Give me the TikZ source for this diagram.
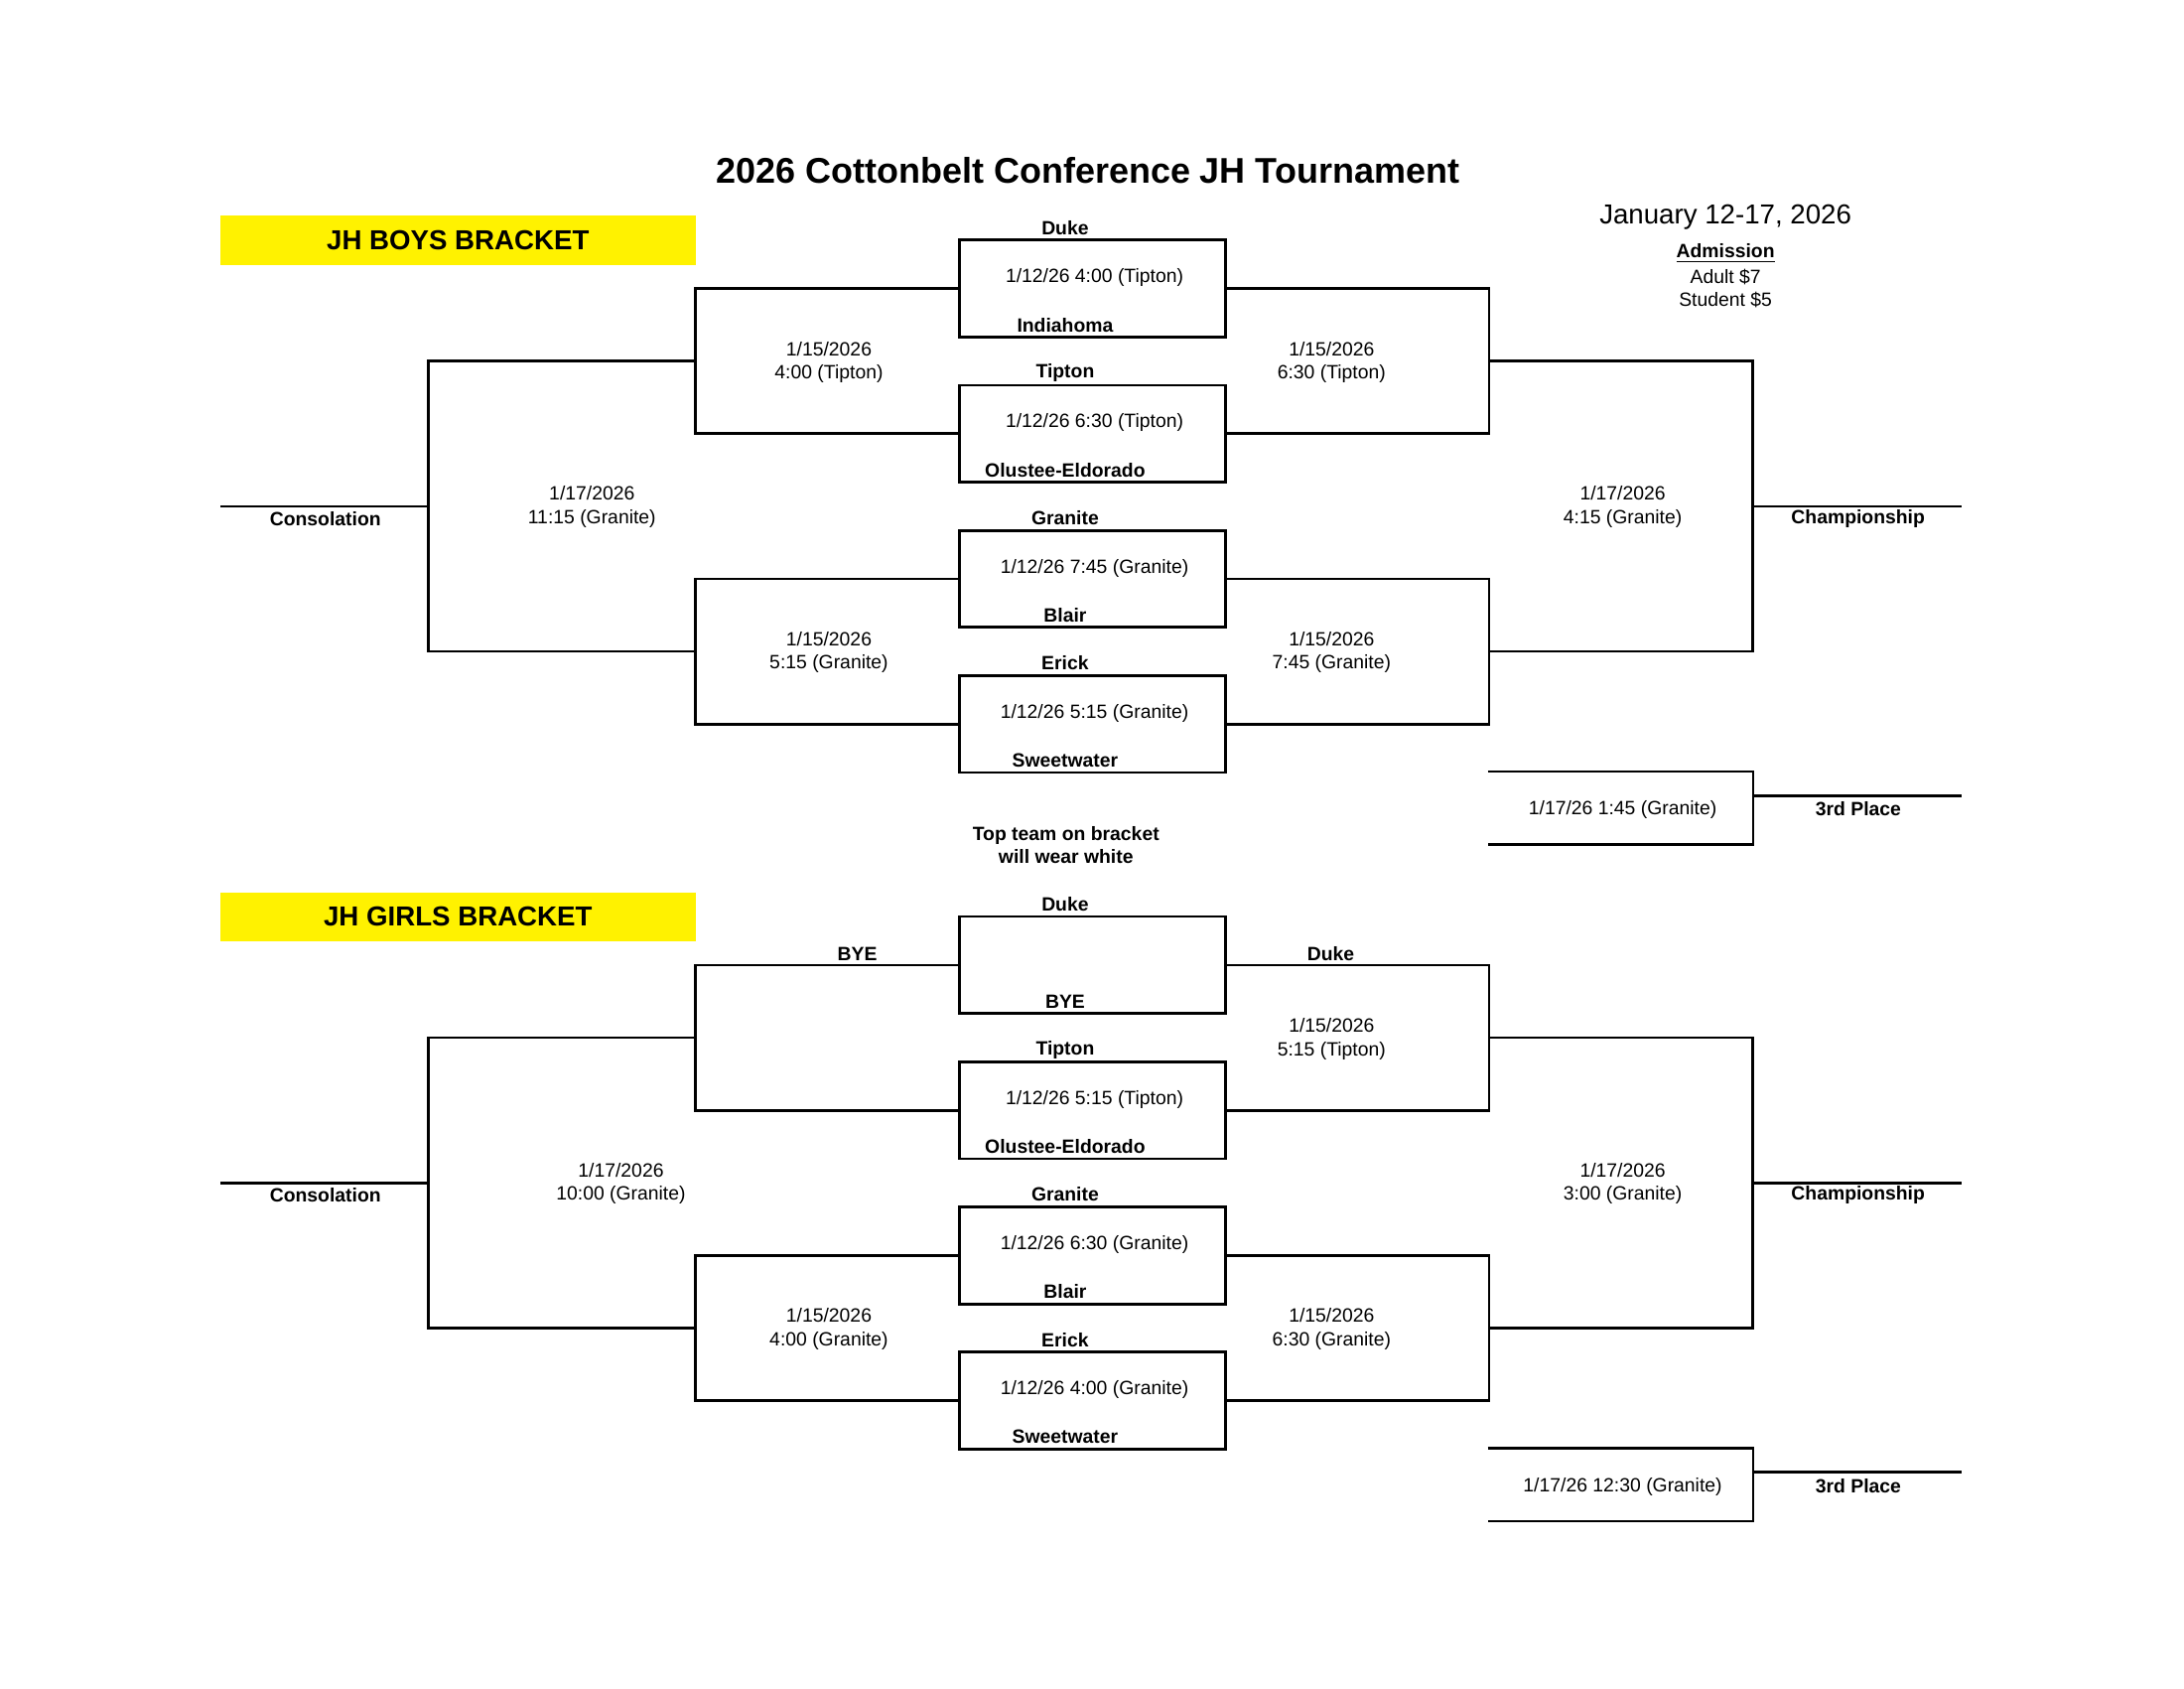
\documentclass[tikz,border=0pt]{standalone}
\usepackage{fontspec}
\setmainfont{Liberation Sans}
\usepackage{tikz}
\newlength{\bkunit}
\setlength{\bkunit}{0.0070153in}
\newcommand{\bksmall}{\fontsize{7}{8.6}\selectfont}
\tikzset{
  gamebox/.style={rectangle,draw=black,line width=1pt,minimum width=191\bkunit,minimum height=69.6\bkunit,inner sep=0pt},
  thirdbox/.style={rectangle,inner sep=0pt,minimum width=189.8\bkunit,minimum height=51.7\bkunit,font=\bksmall},
  team/.style={inner sep=0pt,align=center,font=\bksmall\bfseries},
  info/.style={inner sep=0pt,align=center,font=\bksmall},
  banner/.style={rectangle,fill=yellow,minimum width=341\bkunit,minimum height=35.2\bkunit,inner sep=0pt,font=\fontsize{10}{12}\selectfont\bfseries},
  bkline/.style={line width=1pt}
}

\begin{document}
\begin{tikzpicture}[x=\bkunit,y=-\bkunit]
  \useasboundingbox (0,0) rectangle (1568,1212);
  \node[font=\fontsize{13}{15}\selectfont\bfseries] (title) at (781,122.4) {2026 Cottonbelt Conference JH Tournament};
  \node[font=\fontsize{10}{12}\selectfont] (dates) at (1238.8,155.6) {January 12-17, 2026};
  \node[team] (adm) at (1238.8,182.2) {\underline{Admission}};
  \node[info] (adult) at (1238.8,198.8) {Adult \$7};
  \node[info] (student) at (1238.8,215.4) {Student \$5};

  \node[banner] (boysbanner) at (328.8,172.5) {JH BOYS BRACKET};
  \node[gamebox] (bA) at (784.5,207.1) {};
  \node[gamebox] (bB) at (784.5,311.3) {};
  \node[gamebox] (bC) at (784.5,415.5) {};
  \node[gamebox] (bD) at (784.5,519.7) {};
  \node[team] (bAtop) at (764.7,163.4) {Duke};
  \node[info] (bAtime) at (785.8,199.4) {1/12/26 4:00 (Tipton)};
  \node[team] (bAbot) at (764.7,233.4) {Indiahoma};
  \node[team] (bBtop) at (764.7,267.8) {Tipton};
  \node[info] (bBtime) at (785.8,303.6) {1/12/26 6:30 (Tipton)};
  \node[team] (bBbot) at (764.7,337.4) {Olustee-Eldorado};
  \node[team] (bCtop) at (764.7,371.8) {Granite};
  \node[info] (bCtime) at (785.8,407.8) {1/12/26 7:45 (Granite)};
  \node[team] (bCbot) at (764.7,441.6) {Blair};
  \node[team] (bDtop) at (764.7,476.0) {Erick};
  \node[info] (bDtime) at (785.8,512.0) {1/12/26 5:15 (Granite)};
  \node[team] (bDbot) at (764.7,545.8) {Sweetwater};
  \coordinate (bLq1) at (499,259.2);
  \coordinate (bLq2) at (499,467.6);
  \coordinate (bLsf) at (307.5,363.4);
  \coordinate (bCons) at (158.5,363.4);
  \coordinate (bRq1) at (1069,259.2);
  \coordinate (bRq2) at (1069,467.6);
  \coordinate (bRsf) at (1258.2,363.4);
  \coordinate (bChamp) at (1408,363.4);
  \draw[bkline] (bA.west) -| (bLq1) |- (bB.west);
  \draw[bkline] (bC.west) -| (bLq2) |- (bD.west);
  \draw[bkline] (bA.east) -| (bRq1) |- (bB.east);
  \draw[bkline] (bC.east) -| (bRq2) |- (bD.east);
  \draw[bkline] (bLq1) -| (bLsf) |- (bLq2);
  \draw[bkline] (bRq1) -| (bRsf) |- (bRq2);
  \draw[bkline] (bLsf) -- (bCons);
  \draw[bkline] (bRsf) -- (bChamp);
  \node[info] (bLq1lbl) at (595.1,260.2) {1/15/2026\\4:00 (Tipton)};
  \node[info] (bLq2lbl) at (595.1,468.2) {1/15/2026\\5:15 (Granite)};
  \node[info] (bRq1lbl) at (956,260.2) {1/15/2026\\6:30 (Tipton)};
  \node[info] (bRq2lbl) at (956,468.2) {1/15/2026\\7:45 (Granite)};
  \node[info] (bLsflbl) at (425,364) {1/17/2026\\11:15 (Granite)};
  \node[info] (bRsflbl) at (1165,364) {1/17/2026\\4:15 (Granite)};
  \node[team] (bConslbl) at (233.6,372.3) {Consolation};
  \node[team] (bChamplbl) at (1334,372.3) {Championship};
  \node[thirdbox] (b3rd) at (1163.4,580) {};
  \node[info] (b3time) at (1165,581.4) {1/17/26 1:45 (Granite)};
  \draw[bkline] (b3rd.north west) -- (b3rd.north east) -- (b3rd.south east) -- (b3rd.south west);
  \coordinate (b3j) at (1258.3,571.2);
  \coordinate (b3end) at (1408,571.2);
  \draw[bkline] (b3j) -- (b3end);
  \node[team] (b3lbl) at (1334.2,580.8) {3rd Place};

  \node[team] (note) at (765.3,606.5) {Top team on bracket\\will wear white};

  \node[banner] (girlsbanner) at (328.8,658.1) {JH GIRLS BRACKET};
  \node[gamebox] (gA) at (784.5,692.7) {};
  \node[gamebox] (gB) at (784.5,796.9) {};
  \node[gamebox] (gC) at (784.5,901.1) {};
  \node[gamebox] (gD) at (784.5,1005.3) {};
  \node[team] (gAtop) at (764.7,649.0) {Duke};
  \node[team] (gAbot) at (764.7,718.8) {BYE};
  \node[team] (gBtop) at (764.7,753.4) {Tipton};
  \node[info] (gBtime) at (785.8,789.2) {1/12/26 5:15 (Tipton)};
  \node[team] (gBbot) at (764.7,823.0) {Olustee-Eldorado};
  \node[team] (gCtop) at (764.7,857.4) {Granite};
  \node[info] (gCtime) at (785.8,893.4) {1/12/26 6:30 (Granite)};
  \node[team] (gCbot) at (764.7,927.2) {Blair};
  \node[team] (gDtop) at (764.7,961.6) {Erick};
  \node[info] (gDtime) at (785.8,997.6) {1/12/26 4:00 (Granite)};
  \node[team] (gDbot) at (764.7,1031.4) {Sweetwater};
  \coordinate (gLq1) at (499,744.8);
  \coordinate (gLq2) at (499,953.2);
  \coordinate (gLsf) at (307.5,849.0);
  \coordinate (gCons) at (158.5,849.0);
  \coordinate (gRq1) at (1069,744.8);
  \coordinate (gRq2) at (1069,953.2);
  \coordinate (gRsf) at (1258.2,849.0);
  \coordinate (gChamp) at (1408,849.0);
  \draw[bkline] (gA.west) -| (gLq1) |- (gB.west);
  \draw[bkline] (gC.west) -| (gLq2) |- (gD.west);
  \draw[bkline] (gA.east) -| (gRq1) |- (gB.east);
  \draw[bkline] (gC.east) -| (gRq2) |- (gD.east);
  \draw[bkline] (gLq1) -| (gLsf) |- (gLq2);
  \draw[bkline] (gRq1) -| (gRsf) |- (gRq2);
  \draw[bkline] (gLsf) -- (gCons);
  \draw[bkline] (gRsf) -- (gChamp);
  \node[team] (gLbye) at (615.5,684.6) {BYE};
  \node[team] (gRduke) at (955.4,684.6) {Duke};
  \node[info] (gRq1lbl) at (956,745.6) {1/15/2026\\5:15 (Tipton)};
  \node[info] (gLq2lbl) at (595.1,953.8) {1/15/2026\\4:00 (Granite)};
  \node[info] (gRq2lbl) at (956,953.8) {1/15/2026\\6:30 (Granite)};
  \node[info] (gLsflbl) at (445.8,849.6) {1/17/2026\\10:00 (Granite)};
  \node[info] (gRsflbl) at (1165,849.6) {1/17/2026\\3:00 (Granite)};
  \node[team] (gConslbl) at (233.6,857.9) {Consolation};
  \node[team] (gChamplbl) at (1334,857.9) {Championship};
  \node[thirdbox] (g3rd) at (1163.4,1065.6) {};
  \node[info] (g3time) at (1165,1067) {1/17/26 12:30 (Granite)};
  \draw[bkline] (g3rd.north west) -- (g3rd.north east) -- (g3rd.south east) -- (g3rd.south west);
  \coordinate (g3j) at (1258.3,1056.8);
  \coordinate (g3end) at (1408,1056.8);
  \draw[bkline] (g3j) -- (g3end);
  \node[team] (g3lbl) at (1334.2,1066.4) {3rd Place};
\end{tikzpicture}
\end{document}
